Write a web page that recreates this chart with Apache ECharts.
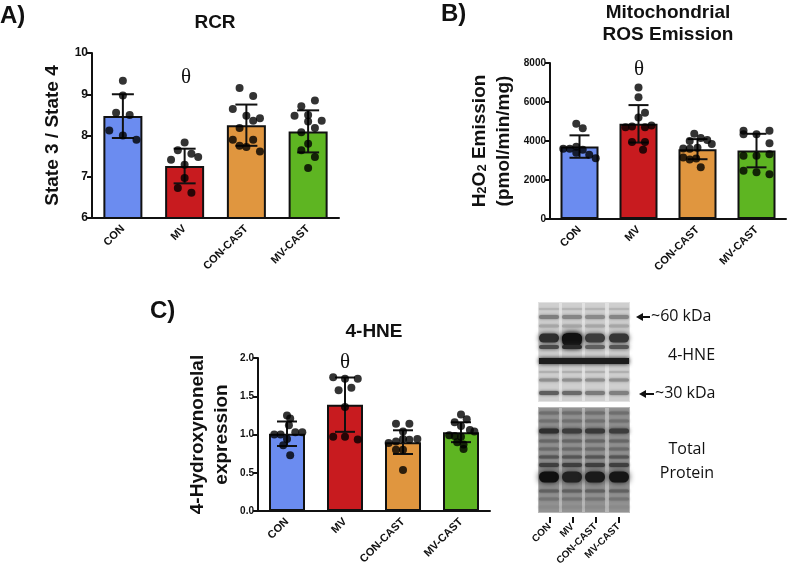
<!DOCTYPE html>
<html>
<head>
<meta charset="utf-8">
<script src="https://cdn.jsdelivr.net/npm/echarts@6/dist/echarts.min.js"></script>
<style>
  html, body { margin: 0; padding: 0; background: #fff; }
  #main { width: 787px; height: 574px; }
</style>
</head>
<body>
<div id="main"></div>
<script>
// groups on every x axis
var groups = ['CON', 'MV', 'CON-CAST', 'MV-CAST'];

// A) RCR (state 3 / state 4)
var rcrMean = [8.47, 7.26, 8.25, 8.10];
var rcrSd = [0.53, 0.42, 0.50, 0.51];
// points: [jitter slot, value]
var rcrPoints = [
    [[0, 9.33], [0, 8.97], [-1, 8.55], [1, 8.50], [-2, 8.12], [0, 8.00], [2, 7.90]],
    [[0, 7.83], [-1, 7.64], [1, 7.56], [-2, 7.41], [2, 7.48], [0, 7.29], [0, 6.97], [-1, 6.73], [1, 6.61]],
    [[-1, 9.15], [1, 8.96], [-2, 8.64], [0, 8.48], [1, 8.36], [2, 8.42], [-1, 8.18], [-2, 7.90], [1, 7.90], [0, 7.72], [-1, 7.75], [2, 7.61]],
    [[1, 8.85], [-1, 8.71], [-2, 8.48], [0, 8.50], [0, 8.34], [2, 8.36], [1, 8.18], [-1, 8.08], [0, 7.80], [-1, 7.64], [1, 7.48], [0, 7.21]]
];

// B) H2O2 emission (pmol/min/mg)
var rosMean = [3715, 4881, 3581, 3509];
var rosSd = [575, 960, 515, 860];
var rosPoints = [
    [[-0.5, 4880], [0.5, 4650], [-0.5, 3700], [-1.5, 3600], [-2.5, 3600], [0.5, 3550], [-0.5, 3400], [1.5, 3300], [2.5, 3120]],
    [[0, 6750], [0, 6250], [1, 5450], [0, 5200], [-2, 4700], [-1, 4750], [1, 4700], [2, 4800], [-1, 3950], [1, 3950], [0.7, 3550]],
    [[-0.5, 4370], [0.5, 4150], [1.5, 4050], [2.2, 3850], [-1.2, 4000], [-2.2, 3620], [-1.2, 3600], [0, 3650], [-1.2, 3050], [-0.2, 3100], [-2.2, 3150], [0.5, 2660]],
    [[-2, 4520], [-2, 4350], [0, 4350], [2, 4520], [2, 3890], [-2, 3250], [0, 3250], [2, 3320], [-2, 2470], [0, 2400], [2, 2300]]
];

// C) 4-HNE expression
var hneMean = [1.01, 1.39, 0.90, 1.03];
var hneSd = [0.16, 0.355, 0.155, 0.13];
var hnePoints = [
    [[0, 1.25], [0.5, 1.21], [0.3, 1.12], [-2, 1.00], [-1, 1.00], [1.3, 1.03], [2.4, 1.03], [0, 0.94], [-0.6, 0.86], [0.5, 0.73]],
    [[-1.85, 1.75], [0, 1.73], [2, 1.73], [-1, 1.58], [1, 1.61], [0, 1.36], [-1.85, 0.97], [0, 0.97], [2, 0.935]],
    [[-1.1, 1.14], [1, 1.14], [0, 1.04], [-2.25, 0.89], [-1.1, 0.91], [0, 0.94], [1, 0.93], [2.25, 0.94], [-1.1, 0.80], [0, 0.80], [0, 0.535]],
    [[0, 1.26], [0.9, 1.20], [-1, 1.16], [0, 1.11], [1.4, 1.06], [2.1, 1.04], [-1.85, 0.99], [-1, 0.98], [0, 0.97], [-0.6, 0.90], [0.4, 0.87], [0.4, 0.81]]
];

var barColors = ['#6b8cf0', '#c81b1f', '#e0963f', '#5eb522'];
var ink = '#111';
var sans = '"Liberation Sans", Arial, sans-serif';

var panels = [
    {mean: rcrMean, sd: rcrSd, pts: rcrPoints, grid: {left: 92, top: 53, width: 247, height: 165},
        min: 6, max: 10, step: 1, digits: 0, barW: 39, cap: 11, tickFont: 12,
        name: 'State 3 / State 4', nameGap: 27},
    {mean: rosMean, sd: rosSd, pts: rosPoints, grid: {left: 550, top: 63, width: 236, height: 156},
        min: 0, max: 8000, step: 2000, digits: 0, barW: 38, cap: 10, tickFont: 10,
        name: '{b|H}{s|2}{b|O}{s|2}{b| Emission}\n{b|(pmol/min/mg)}', nameGap: 37},
    {mean: hneMean, sd: hneSd, pts: hnePoints, grid: {left: 258, top: 358, width: 232, height: 153},
        min: 0, max: 2, step: 0.5, digits: 1, barW: 36, cap: 10, tickFont: 10,
        name: '4-Hydroxynonelal\nexpression', nameGap: 24}
];

var grids = [], xAxes = [], yAxes = [], series = [];

panels.forEach(function (p, k) {
    grids.push(p.grid);
    // category axis for bars + error bars
    xAxes.push({
        gridIndex: k, type: 'category', data: groups,
        axisLine: {onZero: false, lineStyle: {color: ink, width: 2}},
        axisTick: {alignWithLabel: true, length: 5, lineStyle: {color: ink, width: 2}},
        axisLabel: {rotate: 45, interval: 0, margin: 9, color: ink, fontSize: 11, fontWeight: 'bold', fontFamily: sans}
    });
    // hidden value axis for the jittered dots
    xAxes.push({gridIndex: k, type: 'value', min: -0.5, max: 3.5, show: false});
    yAxes.push({
        gridIndex: k, type: 'value', min: p.min, max: p.max, interval: p.step,
        splitLine: {show: false},
        axisLine: {show: true, onZero: false, lineStyle: {color: ink, width: 2}},
        axisTick: {show: true, length: 5, lineStyle: {color: ink, width: 2}},
        axisLabel: {color: ink, fontSize: p.tickFont, fontWeight: 'bold', fontFamily: sans, margin: 4,
            formatter: function (v) { return v.toFixed(p.digits); }},
        name: p.name, nameLocation: 'middle', nameRotate: 90, nameGap: p.nameGap,
        nameTextStyle: {color: ink, fontSize: 19, fontWeight: 'bold', fontFamily: sans, lineHeight: 24,
            rich: {
                b: {fontSize: 19, fontWeight: 'bold', fontFamily: sans, color: ink, lineHeight: 24, verticalAlign: 'bottom'},
                s: {fontSize: 13, fontWeight: 'bold', fontFamily: sans, color: ink, lineHeight: 12, verticalAlign: 'bottom'}
            }}
    });

    series.push({
        type: 'bar', xAxisIndex: 2 * k, yAxisIndex: k, barWidth: p.barW, z: 2, silent: true,
        itemStyle: {borderColor: ink, borderWidth: 2},
        data: p.mean.map(function (v, i) { return {value: v, itemStyle: {color: barColors[i]}}; })
    });

    var cap = p.cap;
    series.push({
        type: 'custom', xAxisIndex: 2 * k, yAxisIndex: k, z: 3, silent: true,
        data: p.mean.map(function (m, i) { return [i, m, p.sd[i]]; }),
        renderItem: function (params, api) {
            var i = api.value(0), m = api.value(1), s = api.value(2);
            var hi = api.coord([i, m + s]);
            var lo = api.coord([i, m - s]);
            var st = {stroke: ink, lineWidth: 2};
            return {type: 'group', children: [
                {type: 'line', shape: {x1: hi[0], y1: hi[1], x2: lo[0], y2: lo[1]}, style: st},
                {type: 'line', shape: {x1: hi[0] - cap, y1: hi[1], x2: hi[0] + cap, y2: hi[1]}, style: st},
                {type: 'line', shape: {x1: lo[0] - cap, y1: lo[1], x2: lo[0] + cap, y2: lo[1]}, style: st}
            ]};
        }
    });

    var dots = [];
    p.pts.forEach(function (grp, g) {
        grp.forEach(function (pt) { dots.push([g + pt[0] * 0.11, pt[1]]); });
    });
    series.push({
        type: 'scatter', xAxisIndex: 2 * k + 1, yAxisIndex: k, z: 4, silent: true,
        symbolSize: 8, itemStyle: {color: '#000'}, data: dots
    });
});

// lane labels under the blot
grids.push({left: 538, top: 302, width: 92, height: 211});
xAxes.push({
    gridIndex: 3, type: 'category', data: groups, offset: 4,
    axisLine: {show: true, onZero: false, lineStyle: {opacity: 0}},
    axisTick: {show: true, alignWithLabel: true, length: 6, lineStyle: {color: ink, width: 2}},
    axisLabel: {rotate: 45, interval: 0, margin: 8, color: ink, fontSize: 10, fontWeight: 'bold', fontFamily: sans}
});
yAxes.push({gridIndex: 3, type: 'value', show: false});

// ---- blot picture (drawn with plain rects) ----
var lanes = [549, 572, 595, 619];
var gfx = [];

function bands(y, h, cols, blur) {
    lanes.forEach(function (cx, i) {
        var c = cols[i % cols.length];
        gfx.push({type: 'rect', silent: true,
            shape: {x: cx - 10, y: y - h / 2, width: 20, height: h, r: h / 2},
            style: {fill: c, shadowBlur: blur, shadowColor: c}});
    });
}

gfx.push({type: 'rect', silent: true, shape: {x: 538, y: 302, width: 92, height: 100}, style: {fill: '#e2e2e2'}});
gfx.push({type: 'rect', silent: true, shape: {x: 538, y: 407, width: 92, height: 106}, style: {fill: '#b8b8b8'}});
lanes.forEach(function (cx) {
    gfx.push({type: 'rect', silent: true, shape: {x: cx - 10, y: 303, width: 20, height: 98}, style: {fill: '#cfcfcf'}});
    gfx.push({type: 'rect', silent: true, shape: {x: cx - 10, y: 408, width: 20, height: 104}, style: {fill: '#939393'}});
});
// top panel
bands(309, 2, ['#b5b5b5'], 2);
bands(317, 4, ['#7e7e7e', '#858585', '#8a8a8a', '#858585'], 3);
bands(326, 3, ['#a6a6a6'], 3);
bands(338, 9, ['#2e2e2e', '#080808', '#3c3c3c', '#353535'], 5);
bands(340, 14, ['rgba(0,0,0,0)', '#111111', 'rgba(0,0,0,0)', 'rgba(0,0,0,0)'], 6);
bands(347, 4, ['#4a4a4a', '#2a2a2a', '#606060', '#555555'], 4);
gfx.push({type: 'rect', silent: true, shape: {x: 539, y: 358, width: 90, height: 6}, style: {fill: '#1c1c1c', shadowBlur: 4, shadowColor: '#1c1c1c'}});
bands(372, 2, ['#b0b0b0'], 2);
bands(380, 3, ['#8e8e8e'], 3);
bands(393, 4, ['#5e5e5e', '#6a6a6a', '#7a7a7a', '#808080'], 3);
// bottom panel
bands(413, 3, ['#6e6e6e'], 3);
bands(421, 3, ['#707070'], 3);
bands(431, 5, ['#2e2e2e', '#3c3c3c', '#383838', '#3c3c3c'], 4);
bands(441, 3, ['#666666'], 3);
bands(449, 3, ['#6a6a6a'], 3);
bands(457, 3, ['#555555'], 3);
bands(465, 4, ['#404040'], 3);
bands(477, 11, ['#101010', '#202020', '#1a1a1a', '#151515'], 6);
bands(491, 3, ['#606060'], 3);
bands(499, 3, ['#747474'], 3);
bands(507, 3, ['#8a8a8a'], 3);

function arrow(x1, x2, y) {
    gfx.push({type: 'line', silent: true, shape: {x1: x1 + 5, y1: y, x2: x2, y2: y}, style: {stroke: ink, lineWidth: 2}});
    gfx.push({type: 'polygon', silent: true, shape: {points: [[x1, y], [x1 + 7, y - 4], [x1 + 7, y + 4]]}, style: {fill: ink}});
}
arrow(636, 650, 317);
arrow(639, 654, 394);

function txt(x, y, s, font, align) {
    gfx.push({type: 'text', silent: true, x: x, y: y,
        style: {text: s, font: font, fill: ink, align: align || 'center', verticalAlign: 'middle',
            textAlign: align || 'center', textVerticalAlign: 'middle'}});
}
var blotFont = '16px "Open Sans", "DejaVu Sans", sans-serif';
txt(651, 316, '~60 kDa', blotFont, 'left');
txt(668, 355, '4-HNE', blotFont, 'left');
txt(655, 393, '~30 kDa', blotFont, 'left');
txt(687, 449, 'Total', blotFont);
txt(687, 473, 'Protein', blotFont);

// panel letters, titles, significance marks
var letterFont = 'bold 24px ' + sans;
txt(0, 16, 'A)', letterFont, 'left');
txt(441, 14, 'B)', letterFont, 'left');
txt(150, 311, 'C)', letterFont, 'left');
var titleFont = 'bold 19px ' + sans;
txt(215, 23, 'RCR', titleFont);
txt(668, 13, 'Mitochondrial', titleFont);
txt(668, 35, 'ROS Emission', titleFont);
txt(374, 332, '4-HNE', titleFont);
var thetaFont = '21px "Liberation Serif", "Times New Roman", serif';
txt(186, 77, 'θ', thetaFont);
txt(639, 69, 'θ', thetaFont);
txt(345, 362, 'θ', thetaFont);

var chart = echarts.init(document.getElementById('main'));
chart.setOption({
    animation: false,
    backgroundColor: '#fff',
    grid: grids,
    xAxis: xAxes,
    yAxis: yAxes,
    series: series,
    graphic: {elements: gfx}
});
</script>
</body>
</html>
